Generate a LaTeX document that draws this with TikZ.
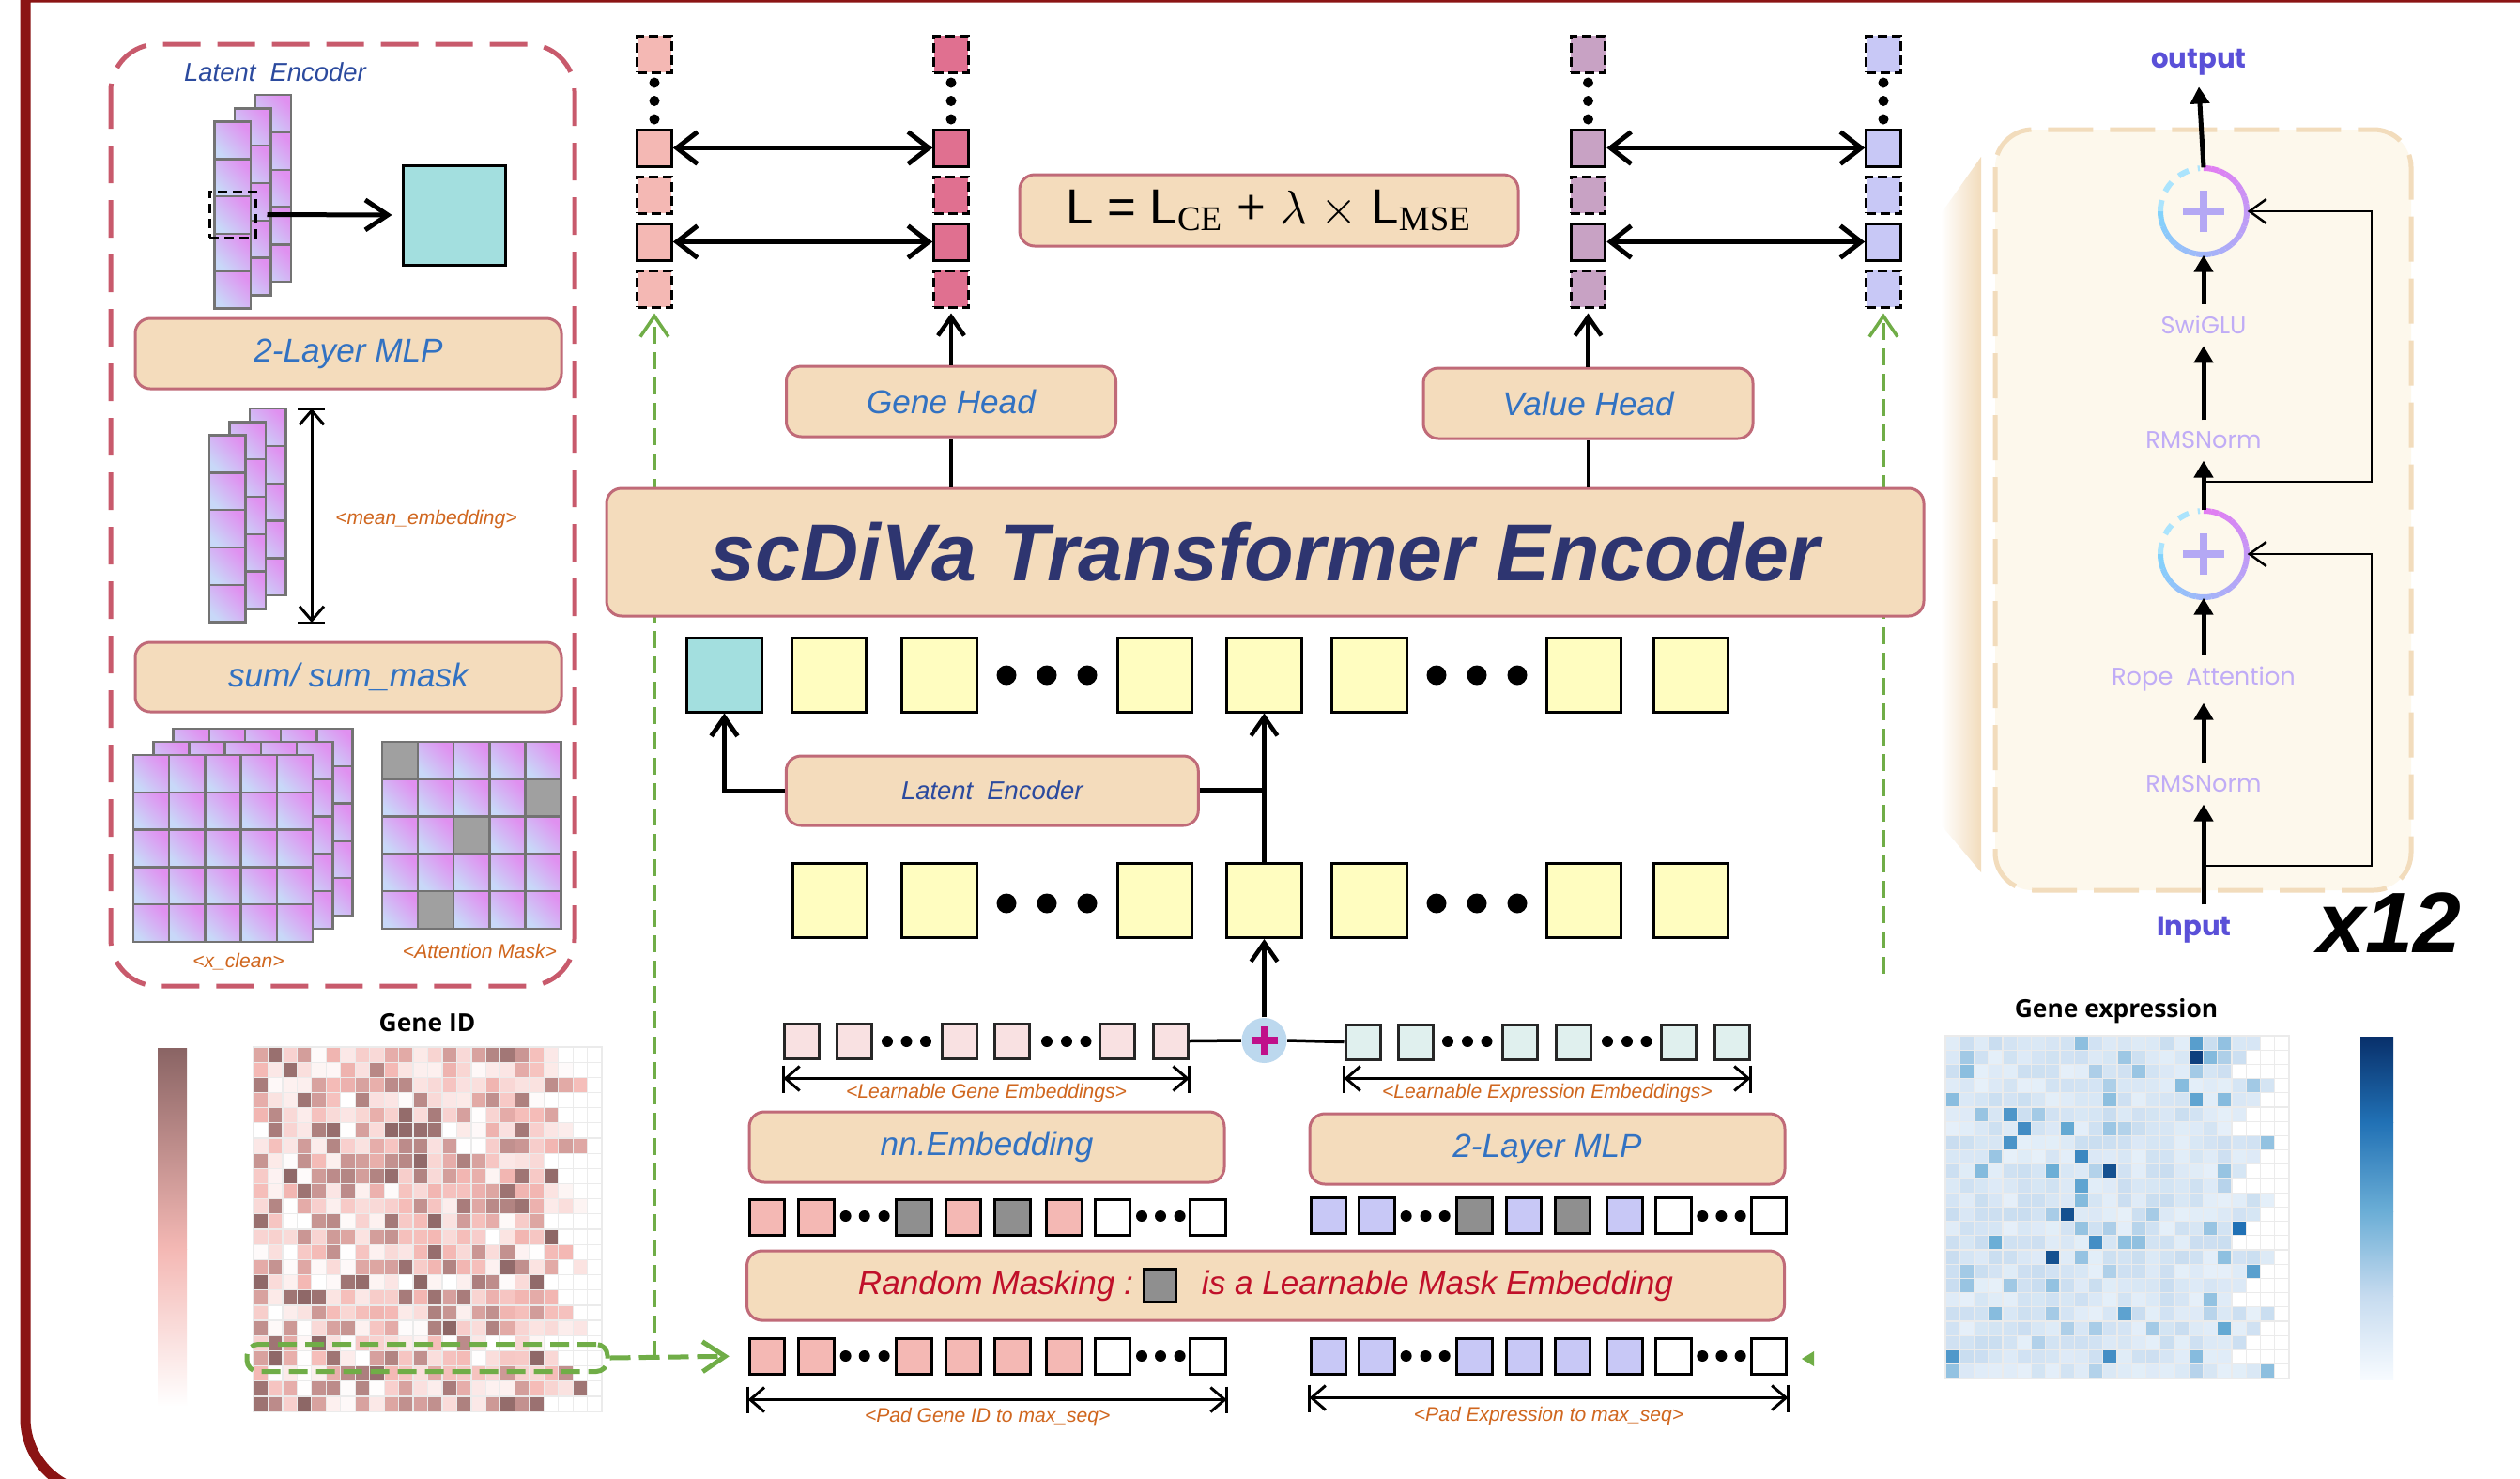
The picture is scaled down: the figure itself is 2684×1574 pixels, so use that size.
\documentclass[tikz,border=0pt]{standalone}
\usepackage{fontspec}
\setmainfont{Liberation Sans}
\newfontfamily\headfont{Open Sans}
\newfontfamily\blockfont{Poppins}
\newfontfamily\lossrm{Liberation Serif}
\usepackage{tikz}
\usetikzlibrary{arrows.meta,positioning,calc}

\definecolor{framered}{HTML}{8B1414}
\definecolor{rose}{HTML}{C85A6C}
\definecolor{boxfill}{HTML}{F4DCBC}
\definecolor{boxline}{HTML}{C06A78}
\definecolor{txtblue}{HTML}{3272C2}
\definecolor{deepblue}{HTML}{2B4A9E}
\definecolor{navy}{HTML}{2E3570}
\definecolor{lblorange}{HTML}{D0661E}
\definecolor{maskred}{HTML}{C0102A}
\definecolor{grn}{HTML}{70AD47}
\definecolor{tealtok}{HTML}{A3DFDF}
\definecolor{tokyel}{HTML}{FFFDC0}
\definecolor{pinktok}{HTML}{F4B8B4}
\definecolor{palepink}{HTML}{F9E1E2}
\definecolor{mint}{HTML}{E0F0EE}
\definecolor{lav}{HTML}{C8C8F6}
\definecolor{maskgray}{HTML}{8F8F8F}
\definecolor{rosecol}{HTML}{E07090}
\definecolor{mauve}{HTML}{C8A2C4}
\definecolor{cellblue}{HTML}{C8D8F8}
\definecolor{cellpink}{HTML}{E090F0}
\definecolor{blockfill}{HTML}{FDF8EC}
\definecolor{blockline}{HTML}{F2DCBC}
\definecolor{blocktxt}{HTML}{C0ACF6}
\definecolor{ioblue}{HTML}{5A50D8}
\definecolor{ringcyan}{HTML}{7ED6FC}
\definecolor{ringmag}{HTML}{E27CF2}
\definecolor{plusvio}{HTML}{B4A8F4}
\definecolor{plusfill}{HTML}{BCD8EE}
\definecolor{plusmag}{HTML}{C0108A}
\definecolor{giddark}{HTML}{8A6464}
\definecolor{gidmid}{HTML}{F4B8B4}
\definecolor{bluA}{HTML}{F7FBFF}
\definecolor{bluB}{HTML}{C6DBEF}
\definecolor{bluC}{HTML}{6BAED6}
\definecolor{bluD}{HTML}{2171B5}
\definecolor{bluE}{HTML}{08306B}

\tikzset{
  stage/.style={rectangle, rounded corners=1.6mm, draw=boxline, fill=boxfill, line width=0.3mm,
                inner sep=0pt, align=center, text=txtblue, font=\fontsize{10}{12}\selectfont\itshape},
  tok/.style={rectangle, draw=black, line width=0.3mm, fill=tokyel, minimum width=7.95mm,
              minimum height=7.9mm, inner sep=0pt},
  emb/.style={rectangle, draw=black!85, line width=0.3mm, minimum width=3.7mm, minimum height=3.7mm, inner sep=0pt},
  seq/.style={rectangle, draw=black, line width=0.3mm, minimum width=3.75mm, minimum height=3.8mm, inner sep=0pt},
  outcell/.style={rectangle, draw=black, line width=0.3mm, minimum width=3.65mm, minimum height=3.9mm, inner sep=0pt},
  padcell/.style={outcell, dash pattern=on 1mm off 0.5mm},
  gcell/.style={draw=black!55, line width=0.25mm, bottom color=cellblue, top color=cellpink, shading angle=-45},
  lbl/.style={text=lblorange, font=\fontsize{6}{7}\selectfont\itshape, inner sep=0.5mm},
  encname/.style={text=deepblue, font=\fontsize{7.8}{9}\selectfont\itshape},
  flow/.style={-{Straight Barb[length=2mm,width=2.8mm]}, line width=0.45mm},
  biflow/.style={{Straight Barb[length=2.2mm,width=3.4mm]}-{Straight Barb[length=2.2mm,width=3.4mm]}, line width=0.5mm},
  dimline/.style={{Straight Barb[length=1.5mm,width=2.6mm]}-{Straight Barb[length=1.5mm,width=2.6mm]}, line width=0.3mm},
  grnflow/.style={draw=grn, line width=0.35mm, dash pattern=on 1.8mm off 0.9mm},
  grnthick/.style={grnflow, line width=0.5mm, dash pattern=on 2.2mm off 0.9mm},
  blockarrow/.style={-{Triangle[length=1.8mm,width=2mm]}, line width=0.5mm},
  skip/.style={-{Straight Barb[length=1.8mm,width=2.6mm]}, line width=0.25mm},
  layername/.style={text=blocktxt, font=\blockfont\fontsize{7.3}{9}\selectfont},
  ioname/.style={text=ioblue, font=\blockfont\bfseries\fontsize{8.3}{10}\selectfont},
  addnode/.style={circle, minimum size=9.2mm, inner sep=0pt},
}

% residual add: two-tone ring with a plus
\newcommand{\addring}[1]{%
  \foreach \a in {90,80,...,-170}{%
    \pgfmathtruncatemacro\wt{(90-\a)/2.7}%
    \draw[line width=0.6mm, ringcyan!\wt!ringmag] ($(#1)+(\a:4.6mm)$) arc[start angle=\a, delta angle=-10, radius=4.6mm];
  }%
  \draw[line width=0.6mm, ringcyan!65!white, dash pattern=on 1.2mm off 1mm] ($(#1)+(180:4.6mm)$) arc[start angle=180, delta angle=-85, radius=4.6mm];
  \draw[line width=0.75mm, plusvio] ($(#1)+(-2.2mm,0)$) -- ($(#1)+(2.2mm,0)$) ($(#1)+(0,-2.2mm)$) -- ($(#1)+(0,2.2mm)$);
}
\newcommand{\maskchip}{{\setlength{\fboxsep}{0pt}\setlength{\fboxrule}{0.3mm}%
  \raisebox{-0.7mm}{\fcolorbox{black}{maskgray}{\rule{0pt}{3.2mm}\hspace{3.1mm}}}}}

\begin{document}
\begin{tikzpicture}[x=0.1mm,y=-0.1mm]
\useasboundingbox (0,0) rectangle (2684,1574);
\fill[white] (0,0) rectangle (2684,1574);

% outer frame
\draw[framered, line width=1.1mm] (2720,-3) -- (27,-3) -- (27,1510) arc[start angle=180, delta angle=90, radius=8mm] -- (2720,1590);

%% ---------- latent encoder panel ----------
\draw[rose, line width=0.5mm, dash pattern=on 4mm off 1.8mm, rounded corners=5mm] (118,47) rectangle (612,1050);
\node[encname] (letitle) at (293,77) {Latent\ \ Encoder};

\foreach \bx/\by in {228.7/129.6, 223/463.6}
  \foreach \lay in {2,1,0}
    \foreach \kk in {0,...,4}
      \draw[gcell] ({\bx+21.5*\lay},{\by-14.2*\lay+39.8*\kk}) rectangle ++(38.5,39.8);
\node[draw=black, line width=0.3mm, dash pattern=on 1mm off 0.6mm, minimum width=4.9mm, minimum height=4.9mm, inner sep=0pt] (pick) at (247.5,228.5) {};
\node[draw=black, line width=0.3mm, fill=tealtok, minimum width=10.9mm, minimum height=10.6mm, inner sep=0pt] (latent) at (483.5,229) {};
\draw[line width=0.5mm, -{Straight Barb[length=2.4mm,width=3.2mm]}, shorten <=1.1mm, shorten >=1mm] (pick.east) -- (latent.west);

\node[stage, minimum width=45.4mm, minimum height=7.5mm] (mlpa) at (371,376.5) {2-Layer MLP};

\draw[dimline] (332,435) -- (332,663);
\draw[line width=0.3mm] (317,435) -- (346,435) (317,663) -- (346,663);
\node[lbl] (meanlbl) at (454,553) {<mean\_embedding>};

\node[stage, minimum width=45.4mm, minimum height=7.4mm] (pool) at (371,721) {sum/ sum\_mask};

\foreach \lay in {2,1,0}
  \foreach \hr in {0,...,4}
    \foreach \hc in {0,...,4}
      \draw[gcell] ({142+21.3*\lay+38.2*\hc},{804-14*\lay+39.8*\hr}) rectangle ++(38.2,39.8);
\foreach \hr in {0,...,4}
  \foreach \hc in {0,...,4}
    \draw[gcell] ({407+38.1*\hc},{790+39.8*\hr}) rectangle ++(38.1,39.8);
\foreach \hr/\hc in {0/0,1/4,2/2,4/1}
  \filldraw[fill=maskgray!85, draw=black!55, line width=0.25mm] ({407+38.1*\hc},{790+39.8*\hr}) rectangle ++(38.1,39.8);
\node[lbl] (xlbl) at (254,1024) {<x\_clean>};
\node[lbl] (amlbl) at (511,1013) {<Attention Mask>};

%% ---------- gene id heatmap ----------
\node[font=\headfont\bfseries\fontsize{7.5}{9}\selectfont] (gidtitle) at (455,1089) {Gene ID};
\shade[top color=giddark, bottom color=gidmid] (168,1116) rectangle (199,1330);
\shade[top color=gidmid, bottom color=white] (168,1330) rectangle (199,1498);
\pgfmathsetseed{11}
\foreach \hr in {0,...,23}{
  \pgfmathtruncatemacro\keep{23-mod(\hr*7+2,4)}
  \foreach \hc in {0,...,23}{
    \pgfmathtruncatemacro\val{100*rnd}
    \ifnum\hc<\keep
      \ifnum\val<55 \pgfmathtruncatemacro\wt{\val*100/55}\colorlet{hcol}{gidmid!\wt!white}%
      \else \pgfmathtruncatemacro\wt{(\val-55)*100/45}\colorlet{hcol}{giddark!\wt!gidmid}\fi
    \else \colorlet{hcol}{white}\fi
    \filldraw[fill=hcol, draw=black!8, line width=0.12mm] ({270+15.46*\hc},{1115+16.17*\hr}) rectangle ++(15.46,16.17);
  }
}
\node[draw=grn, line width=0.5mm, dash pattern=on 2mm off 0.9mm, rounded corners=1.2mm, minimum width=38.4mm, minimum height=2.9mm, inner sep=0pt] (gidrow) at (455,1446) {};

%% ---------- gene expression heatmap ----------
\node[font=\headfont\bfseries\fontsize{7.5}{9}\selectfont] (gextitle) at (2254,1077) {Gene expression};
\shade[top color=bluE, bottom color=bluD] (2514,1104) rectangle (2549,1195);
\shade[top color=bluD, bottom color=bluC] (2514,1195) rectangle (2549,1290);
\shade[top color=bluC, bottom color=bluB] (2514,1290) rectangle (2549,1380);
\shade[top color=bluB, bottom color=bluA] (2514,1380) rectangle (2549,1469);
\pgfmathsetseed{29}
\foreach \hr in {0,...,23}{
  \pgfmathtruncatemacro\keep{23-mod(\hr*5+1,4)}
  \foreach \hc in {0,...,23}{
    \pgfmathtruncatemacro\val{1000*rnd}
    \ifnum\hc<\keep
      \ifnum\val<880 \pgfmathtruncatemacro\wt{35+\val/880*60}\colorlet{hcol}{bluB!\wt!bluA}%
      \else\ifnum\val<975 \pgfmathtruncatemacro\wt{15+(\val-880)/95*60}\colorlet{hcol}{bluC!\wt!bluB}%
      \else\ifnum\val<996 \pgfmathtruncatemacro\wt{(\val-975)/21*70}\colorlet{hcol}{bluD!\wt!bluC}%
      \else \pgfmathtruncatemacro\wt{(\val-996)/4*100}\colorlet{hcol}{bluE!\wt!bluD}\fi\fi\fi
    \else \colorlet{hcol}{white}\fi
    \filldraw[fill=hcol, draw=black!8, line width=0.12mm] ({2072+15.25*\hc},{1103+15.2*\hr}) rectangle ++(15.25,15.2);
  }
}

%% ---------- output columns and loss ----------
\foreach \cx/\cc [count=\i] in {697/pinktok, 1013/rosecol, 1691.5/mauve, 2006/lav}{
  \node[padcell, fill=\cc] (c\i-r1) at (\cx,57.5) {};
  \node[outcell, fill=\cc] (c\i-r2) at (\cx,157.5) {};
  \node[padcell, fill=\cc] (c\i-r3) at (\cx,207.5) {};
  \node[outcell, fill=\cc] (c\i-r4) at (\cx,257.5) {};
  \node[padcell, fill=\cc] (c\i-r5) at (\cx,307.5) {};
  \foreach \dy in {88,107.5,127} \fill (\cx,\dy) circle[radius=0.55mm];
}
\draw[biflow] (c1-r2.east) -- (c2-r2.west);
\draw[biflow] (c1-r4.east) -- (c2-r4.west);
\draw[biflow] (c3-r2.east) -- (c4-r2.west);
\draw[biflow] (c3-r4.east) -- (c4-r4.west);

\node[stage, minimum width=53.1mm, minimum height=7.6mm, text=black, font=\fontsize{15}{16}\selectfont] (loss) at (1351.5,224)
  {L = L\textsubscript{\lossrm CE} + $\lambda$ $\times$ L\textsubscript{\lossrm MSE}};

%% ---------- sequences ----------
\foreach \x/\f [count=\i] in {817/pinktok,869.3/pinktok,973.5/maskgray,1026/pinktok,1078.3/maskgray,1133.4/pinktok,1185/white,1286.4/white}
  \node[seq, fill=\f] (gm\i) at (\x,1296) {};
\foreach \x/\f [count=\i] in {1414.8/lav,1466.3/lav,1570.7/maskgray,1623/lav,1675.2/maskgray,1730.5/lav,1782.7/white,1884.2/white}
  \node[seq, fill=\f] (xm\i) at (\x,1294) {};
\foreach \x/\f [count=\i] in {817/pinktok,869.3/pinktok,973.5/pinktok,1026/pinktok,1078.3/pinktok,1133.4/pinktok,1185/white,1286.4/white}
  \node[seq, fill=\f] (gp\i) at (\x,1444) {};
\foreach \x/\f [count=\i] in {1414.8/lav,1466.3/lav,1570.7/lav,1623/lav,1675.2/lav,1730.5/lav,1782.7/white,1884.2/white}
  \node[seq, fill=\f] (xp\i) at (\x,1444) {};
\foreach \x in {900.6,920.7,941.6,1216,1236,1256.6,1497.6,1518.5,1538.7,1813.3,1833.4,1853.6}{
  \fill (\x,1295) circle[radius=0.6mm];
  \fill (\x,1444) circle[radius=0.6mm];
}

\draw[dimline] ([yshift=-2.6mm]gp1.south west) -- ([yshift=-2.6mm]gp8.south east);
\draw[line width=0.3mm] ([yshift=-1.2mm]gp1.south west) -- ([yshift=-4mm]gp1.south west)
  ([yshift=-1.2mm]gp8.south east) -- ([yshift=-4mm]gp8.south east);
\node[lbl] (gplbl) at ($(gp1.south west)!0.5!(gp8.south east)+(0,-4.5mm)$) {<Pad Gene ID to max\_seq>};
\draw[dimline] ([yshift=-2.4mm]xp1.south west) -- ([yshift=-2.4mm]xp8.south east);
\draw[line width=0.3mm] ([yshift=-1mm]xp1.south west) -- ([yshift=-3.9mm]xp1.south west)
  ([yshift=-1mm]xp8.south east) -- ([yshift=-3.9mm]xp8.south east);
\node[lbl] (xplbl) at ($(xp1.south west)!0.5!(xp8.south east)+(0,-4.4mm)$) {<Pad Expression to max\_seq>};

\node[stage, minimum width=110.5mm, minimum height=7.4mm, text=maskred] (rmask) at (1348,1369)
  {Random Masking :\hspace{1mm}\maskchip\hspace{2.6mm}is a Learnable Mask Embedding};
\node[stage, minimum width=50.6mm, minimum height=7.5mm] (nnemb) at (1051,1221.5) {nn.Embedding};
\node[stage, minimum width=50.6mm, minimum height=7.5mm] (mlpb) at (1648,1223.5) {2-Layer MLP};

% learnable embeddings and their sum
\foreach \x [count=\i] in {854.4,910.3,1022.3,1078.3,1190.3,1246.8}
  \node[emb, fill=palepink] (ge\i) at (\x,1108.5) {};
\foreach \x [count=\i] in {1451.5,1507.5,1619,1676,1788,1844.5}
  \node[emb, fill=mint] (xe\i) at (\x,1109.5) {};
\foreach \x in {945,965.5,986,1115,1136,1156.5,1542,1563,1583.5,1712,1733,1753.5}
  \fill (\x,1109) circle[radius=0.6mm];
\draw[dimline] ([yshift=-2mm]ge1.south west) -- ([yshift=-2mm]ge6.south east);
\draw[line width=0.3mm] ([yshift=-0.6mm]ge1.south west) -- ([yshift=-3.5mm]ge1.south west)
  ([yshift=-0.6mm]ge6.south east) -- ([yshift=-3.5mm]ge6.south east);
\node[lbl] (gelbl) at ($(ge1.south west)!0.5!(ge6.south east)+(0,-3.6mm)$) {<Learnable Gene Embeddings>};
\draw[dimline] ([yshift=-1.9mm]xe1.south west) -- ([yshift=-1.9mm]xe6.south east);
\draw[line width=0.3mm] ([yshift=-0.5mm]xe1.south west) -- ([yshift=-3.4mm]xe1.south west)
  ([yshift=-0.5mm]xe6.south east) -- ([yshift=-3.4mm]xe6.south east);
\node[lbl] (xelbl) at ($(xe1.south west)!0.5!(xe6.south east)+(0,-3.5mm)$) {<Learnable Expression Embeddings>};

\node[circle, fill=plusfill, minimum size=4.8mm, inner sep=0pt] (esum) at (1346.5,1108) {};
\draw[plusmag, line width=0.75mm] ($(esum)+(-1.4mm,0)$) -- ($(esum)+(1.4mm,0)$) ($(esum)+(0,-1.5mm)$) -- ($(esum)+(0,1.5mm)$);
\draw[line width=0.35mm] (ge6.east) -- (esum.west);
\draw[line width=0.35mm] (esum.east) -- (xe1.west);

% token rows
\node[tok, fill=tealtok] (u1) at (771.5,718.5) {};
\foreach \x [count=\i from 2] in {883,1000.5,1230,1346.5,1458.5,1687,1801}
  \node[tok] (u\i) at (\x,718.5) {};
\foreach \x [count=\i] in {884,1000.5,1230,1346.5,1458.5,1687,1801}
  \node[tok] (l\i) at (\x,959) {};
\foreach \x in {1072,1115,1158,1530,1573,1616}{
  \fill (\x,719) circle[radius=1.05mm];
  \fill (\x,962) circle[radius=1.05mm];
}
\draw[flow] (esum.north) -- (l4.south);
\draw[flow] (l4.north) -- (u5.south);
\node[stage, minimum width=43.9mm, minimum height=7.4mm, text=deepblue, font=\fontsize{7.8}{9}\selectfont\itshape] (lenc) at (1056.8,842) {Latent\ \ Encoder};
\draw[line width=0.6mm] (lenc.east) -- (lenc.east -| l4.north);
\draw[flow, line width=0.5mm] (lenc.west) -| (u1.south);

% green taps from the two matrices
\draw[grnthick, -{Straight Barb[length=2.4mm,width=3.2mm]}, shorten >=2mm] (gidrow.east) -- (gp1.west);
\draw[grnflow, -{Straight Barb[length=2.2mm,width=3mm]}, shorten >=0.5mm] (gidrow.east -| c1-r5.south) -- (c1-r5.south);
\coordinate (xtap) at (2006,1037);
\draw[grnflow, -{Straight Barb[length=2.2mm,width=3mm]}, shorten >=0.5mm] (xtap) -- (c4-r5.south);
\fill[grn] (1919,1447) -- (1932,1439) -- (1932,1455) -- cycle;

%% ---------- encoder and heads ----------
\node[stage, minimum width=140.3mm, minimum height=13.6mm, text=navy, font=\fontsize{24.5}{28}\selectfont\bfseries\itshape] (enc) at (1347.5,588) {scDiVa Transformer Encoder};
\node[stage, minimum width=35.1mm, minimum height=7.5mm] (ghead) at (1013,427.5) {Gene Head};
\node[stage, minimum width=35.1mm, minimum height=7.5mm] (vhead) at (1691.5,429.5) {Value Head};
\draw[line width=0.4mm] (enc.north -| ghead.south) -- (ghead.south);
\draw[line width=0.4mm] (enc.north -| vhead.south) -- (vhead.south);
\draw[flow, shorten >=0.5mm] (ghead.north) -- (c2-r5.south);
\draw[flow, shorten >=0.5mm] (vhead.north) -- (c3-r5.south);

%% ---------- transformer block ----------
\shade[left color=white, right color=blockline] (2067,228) -- (2110,167) -- (2110,929) -- (2067,878) -- cycle;
\draw[blockline, fill=blockfill, line width=0.5mm, dash pattern=on 4.8mm off 1.8mm, rounded corners=4mm] (2125,138) rectangle (2568,948);

\node[ioname] (out) at (2342,66) {output};
\node[addnode] (add1) at (2347,225) {};
\node[layername] (swiglu) at (2347,346) {SwiGLU};
\node[layername] (norm2) at (2347,469) {RMSNorm};
\node[addnode] (add2) at (2347,590) {};
\node[layername] (attn) at (2347,723) {Rope\ \ Attention};
\node[layername] (norm1) at (2347,835) {RMSNorm};
\node[ioname] (inp) at (2337,990) {Input};
\node[font=\fontsize{26}{30}\selectfont\bfseries\itshape] (reps) at (2545,983) {x12};
\addring{add1}
\addring{add2}

\draw[blockarrow] (add1.north) -- (out.south);
\draw[blockarrow] (swiglu.north) -- (add1.south);
\draw[blockarrow] (norm2.north) -- (swiglu.south);
\draw[blockarrow] (add2.north) -- (norm2.south);
\draw[blockarrow] (attn.north) -- (add2.south);
\draw[blockarrow] (norm1.north) -- (attn.south);
\draw[blockarrow] (inp.north -| norm1.south) -- (norm1.south);
\coordinate (br2) at (2347,513);
\coordinate (br1) at (2347,922);
\draw[skip] (br2) -- ++(179,0) |- (add1.east);
\draw[skip] (br1) -- ++(179,0) |- (add2.east);
\end{tikzpicture}
\end{document}
